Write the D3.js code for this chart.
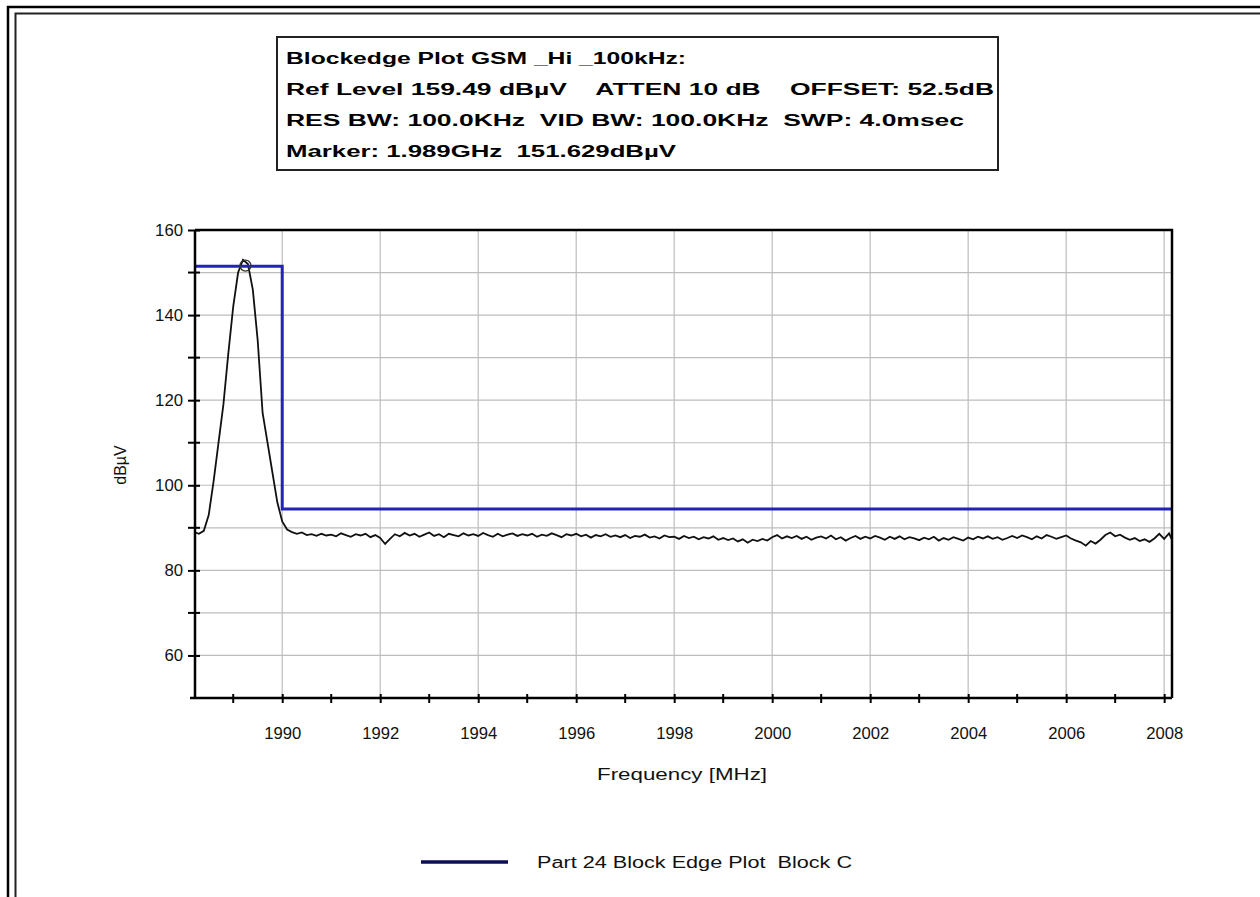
<!DOCTYPE html>
<html>
<head>
<meta charset="utf-8">
<title>Blockedge Plot</title>
<script src="https://cdnjs.cloudflare.com/ajax/libs/d3/7.8.5/d3.min.js"></script>
<style>
  body { margin: 0; background: #fff; }
  svg { display: block; font-family: "Liberation Sans", Arial, sans-serif; }
</style>
</head>
<body>
<script>
/* canvas size */
var w = 1260;
var h = 897;

/* header box text */
var headerLines = [
  "Blockedge Plot GSM _Hi _100kHz:",
  "Ref Level 159.49 dB\u00b5V    ATTEN 10 dB    OFFSET: 52.5dB",
  "RES BW: 100.0KHz  VID BW: 100.0KHz  SWP: 4.0msec",
  "Marker: 1.989GHz  151.629dB\u00b5V"
];
var headerWidths = [400, 708, 678, 390];

/* axes */
var xTicks = [1990, 1992, 1994, 1996, 1998, 2000, 2002, 2004, 2006, 2008];
var xMinorTicks = [1989, 1991, 1993, 1995, 1997, 1999, 2001, 2003, 2005, 2007];
var yTicks = [60, 80, 100, 120, 140, 160];
var yMinorTicks = [70, 90, 110, 130, 150];
var yGrid = [60, 70, 80, 90, 100, 110, 120, 130, 140, 150];
var xDomain = [1988.22, 2008.16];
var yDomain = [50, 160];

/* measured trace: one reading every 0.1 MHz starting at 1988.2 MHz */
var sweepStart = 1988.2;
var sweepStep = 0.1;
var traceLevels = [
  89.0, 88.6, 89.3, 93.0, 101.0, 110.0, 119.0, 131.0, 142.0, 150.0,
  153.0, 152.0, 146.0, 134.0, 117.0, 110.0, 103.0, 96.0, 91.5, 89.6,
  89.0, 88.6, 88.9, 88.3, 88.5, 88.1, 88.6, 88.2,
  88.4, 88.0, 88.7, 88.3, 87.9, 88.5, 88.2, 88.6, 87.8, 88.3,
  87.6, 86.2, 87.4, 88.5, 88.0, 88.8, 88.2, 88.6, 87.9, 88.4,
  88.9, 88.1, 88.5, 87.8, 88.6, 88.3, 88.0, 88.7, 88.2, 88.5,
  88.1, 88.8, 88.3, 87.9, 88.6, 88.0, 88.4, 88.7, 88.1, 88.5,
  88.2, 88.6, 87.9, 88.4, 88.1, 88.7, 88.3, 87.8, 88.5, 88.2,
  88.6, 88.0, 88.4, 87.7, 88.3, 88.0, 88.5, 87.9, 88.2, 87.8,
  88.3, 87.6, 88.1, 87.9, 88.4, 87.7, 88.0, 87.5, 88.2, 87.8,
  87.9, 87.4, 88.1, 87.6, 87.9, 87.3, 87.8, 87.5, 88.0, 87.2,
  87.6, 87.1, 87.5, 86.8, 87.3, 86.5, 87.2, 86.9, 87.4, 87.0,
  87.8, 88.3, 87.5, 88.0, 87.6, 88.1, 87.4, 87.9, 87.2, 87.7,
  88.0, 87.5, 88.2, 87.3, 87.8, 87.0, 87.6, 88.1, 87.4, 87.9,
  87.5, 88.1, 87.7, 87.2, 87.9, 87.4, 88.0, 87.3, 87.8, 87.5,
  87.1, 87.7, 87.3, 87.9, 87.0, 87.6, 87.2, 87.8, 87.4, 87.0,
  87.7, 87.3, 87.9, 87.5, 88.0, 87.4, 87.8, 87.2, 87.6, 88.1,
  87.6, 88.2, 87.8, 87.3, 88.0, 87.5, 88.3, 87.9, 87.4, 87.8,
  88.2, 87.5, 87.0, 86.6, 85.8, 86.9, 86.3, 87.2, 88.3, 88.9,
  88.0, 88.4, 87.7, 87.2, 87.6, 86.9, 87.3, 86.7, 87.5, 88.6,
  87.4, 88.7, 86.2
];

/* block edge limit line */
var limitFreqs = [1988.22, 1990.0, 1990.0, 2008.16];
var limitLevels = [151.5, 151.5, 94.4, 94.4];

/* marker */
var markerFreq = 1989.25;
var markerLevel = 151.629;

var legendLabel = "Part 24 Block Edge Plot  Block C";

var plot = { left: 195, right: 1172, top: 230, bottom: 698 };

var xScale = d3.scaleLinear().domain(xDomain).range([plot.left, plot.right]);
var yScale = d3.scaleLinear().domain(yDomain).range([plot.bottom, plot.top]);

var svg = d3.select("body").append("svg")
  .attr("width", w)
  .attr("height", h);

//double frame at top and left
svg.append("path")
  .attr("d", "M8,897 L8,7 L1260,7")
  .attr("fill", "none").attr("stroke", "#000").attr("stroke-width", 2.5);
svg.append("path")
  .attr("d", "M15.5,897 L15.5,13.5 L1260,13.5")
  .attr("fill", "none").attr("stroke", "#222").attr("stroke-width", 2);

//header box
svg.append("rect")
  .attr("x", 277).attr("y", 37)
  .attr("width", 721).attr("height", 133)
  .attr("fill", "#fff").attr("stroke", "#222").attr("stroke-width", 2);

//the original picture is stretched sideways, so the glyphs are stretched too
svg.selectAll("text.header")
  .data(headerLines)
  .enter()
  .append("text")
  .attr("class", "header")
  .attr("x", 286)
  .attr("y", function(d, i) { return 64 + i * 31; })
  .attr("textLength", function(d, i) { return headerWidths[i]; })
  .attr("lengthAdjust", "spacingAndGlyphs")
  .attr("font-size", 16)
  .attr("font-weight", "bold")
  .attr("fill", "#000")
  .style("white-space", "pre")
  .text(function(d) { return d; });

//grid lines
svg.append("g")
  .selectAll("line")
  .data(yGrid)
  .enter()
  .append("line")
  .attr("x1", plot.left).attr("x2", plot.right)
  .attr("y1", function(d) { return yScale(d); })
  .attr("y2", function(d) { return yScale(d); })
  .attr("stroke", "#bdbdbd").attr("stroke-width", 1.2);

svg.append("g")
  .selectAll("line")
  .data(xTicks)
  .enter()
  .append("line")
  .attr("x1", function(d) { return xScale(d); })
  .attr("x2", function(d) { return xScale(d); })
  .attr("y1", plot.top).attr("y2", plot.bottom)
  .attr("stroke", "#bdbdbd").attr("stroke-width", 1.2);

//clip for data lines
svg.append("clipPath").attr("id", "clip")
  .append("rect")
  .attr("x", plot.left).attr("y", plot.top)
  .attr("width", plot.right - plot.left).attr("height", plot.bottom - plot.top);

//measured trace
var trace = traceLevels.map(function(v, i) { return [sweepStart + i * sweepStep, v]; });

var line = d3.line()
  .x(function(d) { return xScale(d[0]); })
  .y(function(d) { return yScale(d[1]); });

svg.append("path")
  .datum(trace)
  .attr("clip-path", "url(#clip)")
  .attr("d", line)
  .attr("fill", "none")
  .attr("stroke", "#111")
  .attr("stroke-width", 1.8);

//limit line
var limit = limitFreqs.map(function(f, i) { return [f, limitLevels[i]]; });
svg.append("path")
  .datum(limit)
  .attr("d", line)
  .attr("fill", "none")
  .attr("stroke", "#2424b4")
  .attr("stroke-width", 3);

//marker
svg.append("circle")
  .attr("cx", xScale(markerFreq))
  .attr("cy", yScale(markerLevel))
  .attr("r", 5.5)
  .attr("fill", "none")
  .attr("stroke", "#333")
  .attr("stroke-width", 1.3);

//x axis
var xAxis = d3.axisBottom(xScale).tickValues(xTicks).tickFormat(d3.format("d")).tickSize(5);
var gx = svg.append("g")
  .attr("transform", "translate(0," + plot.bottom + ")")
  .call(xAxis);
gx.select(".domain").attr("d", "M" + (plot.left - 5) + ",0H" + plot.right)
  .attr("stroke-width", 2.5);
gx.selectAll(".tick line").attr("y1", -4).attr("y2", 5).attr("stroke-width", 2);
gx.selectAll(".tick text")
  .attr("y", 41).attr("dy", 0)
  .attr("font-size", 16).attr("fill", "#111")
  .attr("font-family", "Liberation Sans, Arial, sans-serif")
  .attr("textLength", 37)
  .attr("lengthAdjust", "spacingAndGlyphs");

svg.append("g")
  .selectAll("line")
  .data(xMinorTicks)
  .enter()
  .append("line")
  .attr("x1", function(d) { return xScale(d); })
  .attr("x2", function(d) { return xScale(d); })
  .attr("y1", plot.bottom - 4).attr("y2", plot.bottom + 5)
  .attr("stroke", "#000").attr("stroke-width", 2);

//y axis
var yAxis = d3.axisLeft(yScale).tickValues(yTicks).tickSize(5);
var gy = svg.append("g")
  .attr("transform", "translate(" + plot.left + ",0)")
  .call(yAxis);
gy.select(".domain").attr("d", "M0," + plot.top + "V" + (plot.bottom + 1))
  .attr("stroke-width", 2.5);
gy.selectAll(".tick line").attr("x1", -7).attr("x2", 5).attr("stroke-width", 2);
gy.selectAll(".tick text")
  .attr("x", -12)
  .attr("font-size", 16).attr("fill", "#111")
  .attr("font-family", "Liberation Sans, Arial, sans-serif")
  .attr("textLength", function(d) { return String(d).length * 9.3; })
  .attr("lengthAdjust", "spacingAndGlyphs");

svg.append("g")
  .selectAll("line")
  .data(yMinorTicks)
  .enter()
  .append("line")
  .attr("x1", plot.left - 7).attr("x2", plot.left + 5)
  .attr("y1", function(d) { return yScale(d); })
  .attr("y2", function(d) { return yScale(d); })
  .attr("stroke", "#000").attr("stroke-width", 2);

//right and top frame of plot
svg.append("path")
  .attr("d", "M" + plot.left + "," + plot.top + "H" + plot.right + "V" + plot.bottom)
  .attr("fill", "none").attr("stroke", "#000").attr("stroke-width", 2.5);

//axis titles
svg.append("text")
  .attr("x", 597)
  .attr("y", 780)
  .attr("font-size", 16).attr("fill", "#111")
  .attr("textLength", 170)
  .attr("lengthAdjust", "spacingAndGlyphs")
  .text("Frequency [MHz]");

svg.append("text")
  .attr("transform", "translate(126,465) rotate(-90)")
  .attr("text-anchor", "middle")
  .attr("font-size", 16).attr("fill", "#111")
  .text("dB\u00b5V");

//legend
svg.append("line")
  .attr("x1", 421).attr("x2", 508)
  .attr("y1", 862).attr("y2", 862)
  .attr("stroke", "#0c0c58").attr("stroke-width", 3.5);

svg.append("text")
  .attr("x", 537).attr("y", 868)
  .attr("font-size", 16).attr("fill", "#111")
  .attr("textLength", 315)
  .attr("lengthAdjust", "spacingAndGlyphs")
  .style("white-space", "pre")
  .text(legendLabel);
</script>
</body>
</html>
